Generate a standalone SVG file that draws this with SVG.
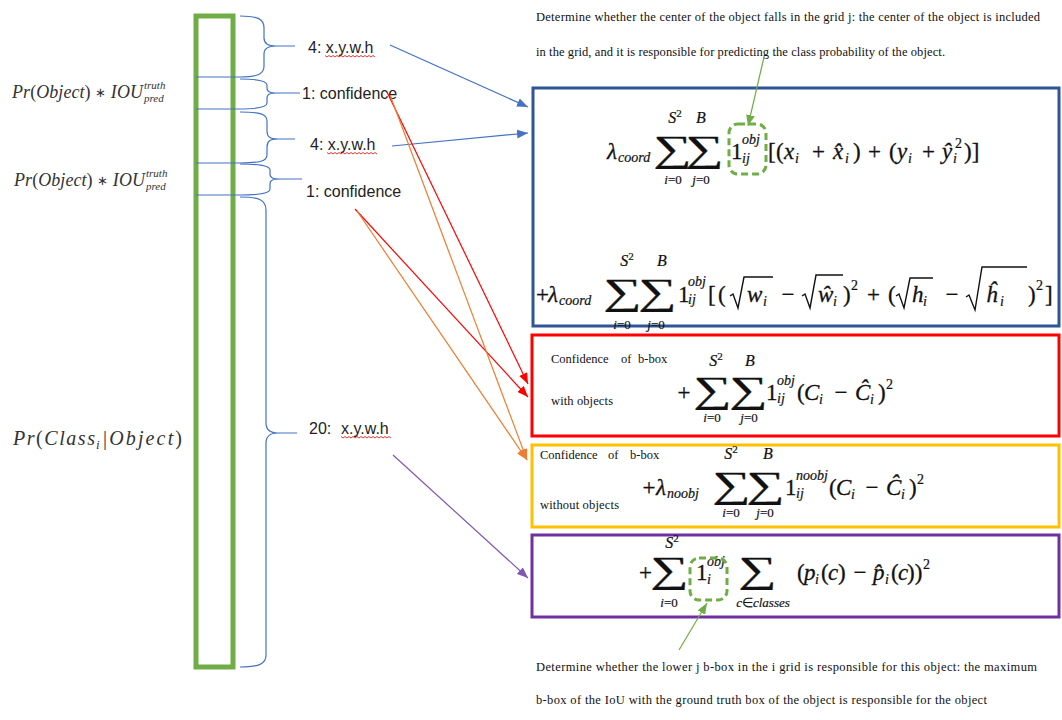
<svg xmlns="http://www.w3.org/2000/svg" width="1062" height="720" viewBox="0 0 1062 720">
<defs>
<style>
.lbl{font-family:"Liberation Sans",Arial,sans-serif;font-size:16px;fill:#222}
.note{font-family:"Liberation Serif","Times New Roman",serif;font-size:12.5px;fill:#111}
.m{font-family:"Liberation Serif","Times New Roman",serif;font-style:italic;fill:#111;font-size:23px;stroke:#111;stroke-width:0.3}
.u{font-style:normal}
.sub{font-size:14px;stroke-width:0.2}
.lim{font-size:13px;text-anchor:middle;stroke-width:0.2}
.lim16{font-size:16px;text-anchor:middle;stroke-width:0.2}
.sum{font-family:"Liberation Serif","Times New Roman",serif;font-style:normal;font-size:37px;text-anchor:middle;fill:#111;stroke:#111;stroke-width:0.3}
.side{font-family:"Liberation Serif","Times New Roman",serif;font-style:italic;fill:#333}
.ast{font-style:normal;font-size:13px}
.brace{fill:none;stroke:#4472C4;stroke-width:1.2}
.wavy{fill:none;stroke:#e02020;stroke-width:0.9}
.rad{fill:none;stroke:#111;stroke-width:1.4;stroke-linejoin:miter}
.dash{fill:none;stroke:#70AD47;stroke-width:3;stroke-dasharray:7 4}
</style>
<marker id="ah-blue" viewBox="0 0 10 8" refX="10" refY="4" markerWidth="11" markerHeight="9" markerUnits="userSpaceOnUse" orient="auto"><path d="M0,0 L10,4 L0,8 z" fill="#4472C4"/></marker>
<marker id="ah-red" viewBox="0 0 10 8" refX="10" refY="4" markerWidth="11" markerHeight="9" markerUnits="userSpaceOnUse" orient="auto"><path d="M0,0 L10,4 L0,8 z" fill="#FF0000"/></marker>
<marker id="ah-orange" viewBox="0 0 10 8" refX="10" refY="4" markerWidth="11" markerHeight="9" markerUnits="userSpaceOnUse" orient="auto"><path d="M0,0 L10,4 L0,8 z" fill="#ED7D31"/></marker>
<marker id="ah-purple" viewBox="0 0 10 8" refX="10" refY="4" markerWidth="11" markerHeight="9" markerUnits="userSpaceOnUse" orient="auto"><path d="M0,0 L10,4 L0,8 z" fill="#7F55B5"/></marker>
<marker id="ah-green" viewBox="0 0 10 8" refX="10" refY="4" markerWidth="11" markerHeight="9" markerUnits="userSpaceOnUse" orient="auto"><path d="M0,0 L10,4 L0,8 z" fill="#70AD47"/></marker>
</defs>
<rect width="1062" height="720" fill="#fff"/>

<!-- output vector column -->
<g id="vector">
  <rect x="196" y="16" width="37" height="651" fill="none" stroke="#70AD47" stroke-width="5"/>
  <g stroke="#4472C4" stroke-width="1.2">
    <line x1="196" y1="77" x2="240" y2="77"/>
    <line x1="196" y1="109" x2="240" y2="109"/>
    <line x1="196" y1="163" x2="240" y2="163"/>
    <line x1="196" y1="195" x2="240" y2="195"/>
  </g>
</g>

<!-- braces grouping the vector slots -->
<g id="braces">
  <path class="brace" d="M240,16 C258,16 264,19 264,28 L264,38 C264,44 268,46 276,46 L295,46 M276,46 C268,46 264,48 264,54 L264,66 C264,74 258,77 240,77"/>
  <path class="brace" d="M240,79 C260,79 267,81 267,85 L267,88 C267,92 270,93 278,93 L300,93 M278,93 C270,93 267,94 267,98 L267,103 C267,107 260,109 240,109"/>
  <path class="brace" d="M240,112 C260,112 267,114 267,121 L267,131 C267,137 270,139 278,139 L295,139 M278,139 C270,139 267,141 267,147 L267,155 C267,161 260,163 240,163"/>
  <path class="brace" d="M240,164 C262,164 270,166 270,170 L270,174 C270,178 273,179 281,179 L302,179 M281,179 C273,179 270,180 270,184 L270,189 C270,193 262,195 240,195"/>
  <path class="brace" d="M240,197 C259,197 266,200 266,210 L266,423 C266,430 270,433 278,433 L297,433 M278,433 C270,433 266,436 266,443 L266,655 C266,664 259,667 240,667"/>
</g>

<!-- slot labels -->
<g id="slot-xywh-1">
  <text class="lbl" x="308" y="53">4: x.y.w.h</text>
  <path class="wavy" d="M325,55.5 l2,1.5 l2,-1.5 l2,1.5 l2,-1.5 l2,1.5 l2,-1.5 l2,1.5 l2,-1.5 l2,1.5 l2,-1.5 l2,1.5 l2,-1.5 l2,1.5 l2,-1.5 l2,1.5 l2,-1.5 l2,1.5 l2,-1.5 l2,1.5 l2,-1.5 l2,1.5 l2,-1.5 l2,1.5 l2,-1.5 l2,1.5"/>
</g>
<g id="slot-conf-1"><text class="lbl" x="302" y="99">1: confidence</text></g>
<g id="slot-xywh-2">
  <text class="lbl" x="310" y="150">4: x.y.w.h</text>
  <path class="wavy" d="M327,152.5 l2,1.5 l2,-1.5 l2,1.5 l2,-1.5 l2,1.5 l2,-1.5 l2,1.5 l2,-1.5 l2,1.5 l2,-1.5 l2,1.5 l2,-1.5 l2,1.5 l2,-1.5 l2,1.5 l2,-1.5 l2,1.5 l2,-1.5 l2,1.5 l2,-1.5 l2,1.5 l2,-1.5 l2,1.5 l2,-1.5 l2,1.5"/>
</g>
<g id="slot-conf-2"><text class="lbl" x="306" y="197">1: confidence</text></g>
<g id="slot-class">
  <text class="lbl" x="309" y="434">20:<tspan x="341">x.y.w.h</tspan></text>
  <path class="wavy" d="M341,436.5 l2,1.5 l2,-1.5 l2,1.5 l2,-1.5 l2,1.5 l2,-1.5 l2,1.5 l2,-1.5 l2,1.5 l2,-1.5 l2,1.5 l2,-1.5 l2,1.5 l2,-1.5 l2,1.5 l2,-1.5 l2,1.5 l2,-1.5 l2,1.5 l2,-1.5 l2,1.5 l2,-1.5 l2,1.5 l2,-1.5 l2,1.5"/>
</g>

<!-- left-hand meaning of each slot -->
<g id="meaning-conf-1">
  <text class="side" x="12" y="98" font-size="18" textLength="131">Pr<tspan class="u">(</tspan>Object<tspan class="u">)</tspan> <tspan class="ast" dy="-1">∗</tspan> <tspan dy="1">IOU</tspan></text>
  <text class="side" x="144" y="89" font-size="11">truth</text>
  <text class="side" x="144" y="102" font-size="11">pred</text>
</g>
<g id="meaning-conf-2">
  <text class="side" x="14" y="186" font-size="18" textLength="131">Pr<tspan class="u">(</tspan>Object<tspan class="u">)</tspan> <tspan class="ast" dy="-1">∗</tspan> <tspan dy="1">IOU</tspan></text>
  <text class="side" x="146" y="177" font-size="11">truth</text>
  <text class="side" x="146" y="190" font-size="11">pred</text>
</g>
<g id="meaning-class">
  <text class="side" x="13" y="445" font-size="20" textLength="82">Pr<tspan class="u">(</tspan>Class</text>
  <text class="side" x="96" y="449" font-size="13">i</text>
  <text class="side" x="103" y="445" font-size="20" textLength="79"><tspan class="u">|</tspan>Object<tspan class="u">)</tspan></text>
</g>

<!-- annotations -->
<g id="note-top">
  <text class="note" x="536" y="21" textLength="504">Determine whether the center of the object falls in the grid j: the center of the object is included</text>
  <text class="note" x="536" y="56" textLength="409">in the grid, and it is responsible for predicting the class probability of the object.</text>
</g>
<g id="note-bottom">
  <text class="note" x="536" y="671" textLength="501">Determine whether the lower j b-box in the i grid is responsible for this object: the maximum</text>
  <text class="note" x="536" y="704" textLength="451">b-box of the IoU with the ground truth box of the object is responsible for the object</text>
</g>

<!-- coordinate loss -->
<g id="loss-coord">
  <rect x="533" y="88" width="526" height="238" fill="none" stroke="#2F5597" stroke-width="3"/>
  <!-- centre terms -->
  <text class="m" x="607" y="159">λ</text>
  <text class="m sub" x="618" y="162">coord</text>
  <text class="sum" transform="translate(672,161) scale(1.45,1)">∑</text>
  <text class="m lim16" x="675" y="123">S<tspan class="u" font-size="11" dy="-6">2</tspan></text>
  <text class="m lim" x="673" y="184">i<tspan class="u">=0</tspan></text>
  <text class="sum" transform="translate(704,161) scale(1.45,1)">∑</text>
  <text class="m lim16" x="701" y="123">B</text>
  <text class="m lim" x="701" y="184">j<tspan class="u">=0</tspan></text>
  <text class="m u" x="731" y="159">1</text>
  <text class="m sub" x="742" y="144">obj</text>
  <text class="m sub" x="742" y="163">ij</text>
  <rect class="dash" x="729" y="124" width="37" height="50" rx="9"/>
  <text class="m" y="159"><tspan class="u" x="768">[</tspan><tspan class="u" x="776">(</tspan><tspan x="784">x</tspan><tspan class="sub" x="795" y="163">i</tspan><tspan class="u" x="812" y="159">+</tspan><tspan x="833">x̂</tspan><tspan class="sub" x="845" y="163">i</tspan><tspan class="u" x="853" y="159">)</tspan><tspan class="u" x="868">+</tspan><tspan class="u" x="889">(</tspan><tspan x="897">y</tspan><tspan class="sub" x="908" y="163">i</tspan><tspan class="u" x="922" y="159">+</tspan><tspan x="942">ŷ</tspan><tspan class="sub" x="953" y="163">i</tspan><tspan class="u sub" x="955" y="148">2</tspan><tspan class="u" x="964" y="159">)]</tspan></text>

  <!-- size terms -->
  <text class="m" y="302"><tspan class="u" x="536">+</tspan><tspan x="548">λ</tspan></text>
  <text class="m sub" x="559" y="305">coord</text>
  <text class="sum" transform="translate(622,304) scale(1.45,1)">∑</text>
  <text class="m lim16" x="627" y="266">S<tspan class="u" font-size="11" dy="-6">2</tspan></text>
  <text class="m lim" x="622" y="329">i<tspan class="u">=0</tspan></text>
  <text class="sum" transform="translate(657,304) scale(1.45,1)">∑</text>
  <text class="m lim16" x="662" y="266">B</text>
  <text class="m lim" x="656" y="329">j<tspan class="u">=0</tspan></text>
  <text class="m u" x="678" y="302">1</text>
  <text class="m sub" x="688" y="286">obj</text>
  <text class="m sub" x="688" y="304">ij</text>
  <text class="m" y="302"><tspan class="u" x="708">[</tspan><tspan class="u" x="718">(</tspan><tspan x="747">w</tspan><tspan class="sub" x="763" y="306">i</tspan><tspan class="u" x="781.5" y="302">−</tspan><tspan x="818">ŵ</tspan><tspan class="sub" x="833" y="306">i</tspan><tspan class="u" x="843" y="302">)</tspan><tspan class="u sub" x="851" y="290">2</tspan><tspan class="u" x="867" y="302">+</tspan><tspan class="u" x="888">(</tspan><tspan x="912">h</tspan><tspan class="sub" x="923" y="306">i</tspan><tspan class="u" x="945.5" y="302">−</tspan><tspan x="986">ĥ</tspan><tspan class="sub" x="1000" y="306">i</tspan><tspan class="u" x="1028" y="302">)</tspan><tspan class="u sub" x="1036" y="290">2</tspan><tspan class="u" x="1045" y="302">]</tspan></text>
  <g class="rad">
    <path d="M730,296 L733,294 L738,308 L744,277 L773,277"/>
    <path d="M802,296 L805,294 L810,308 L816,275 L843,275"/>
    <path d="M896,296 L899,294 L904,308 L910,278 L933,278"/>
    <path d="M966,297 L969,295 L975,310 L982,267 L1027,267"/>
  </g>
</g>

<!-- confidence loss, boxes with objects -->
<g id="loss-obj">
  <rect x="532" y="335" width="527" height="101" fill="none" stroke="#FF0000" stroke-width="3"/>
  <text class="note" y="363"><tspan x="551">Confidence</tspan><tspan x="621">of</tspan><tspan x="638">b-box</tspan></text>
  <text class="note" x="551" y="405" textLength="62">with objects</text>
  <text class="m u" x="677.5" y="400">+</text>
  <text class="sum" transform="translate(712,402) scale(1.45,1)">∑</text>
  <text class="m lim16" x="716" y="366">S<tspan class="u" font-size="11" dy="-6">2</tspan></text>
  <text class="m lim" x="712" y="422">i<tspan class="u">=0</tspan></text>
  <text class="sum" transform="translate(748,402) scale(1.45,1)">∑</text>
  <text class="m lim16" x="750" y="366">B</text>
  <text class="m lim" x="749" y="422">j<tspan class="u">=0</tspan></text>
  <text class="m u" x="766" y="400">1</text>
  <text class="m sub" x="777" y="385">obj</text>
  <text class="m sub" x="777" y="403">ij</text>
  <text class="m" y="400"><tspan class="u" x="797">(</tspan><tspan x="804">C</tspan><tspan class="sub" x="819" y="404">i</tspan><tspan class="u" x="834.5" y="400">−</tspan><tspan x="855">Ĉ</tspan><tspan class="sub" x="870" y="404">i</tspan><tspan class="u" x="878" y="400">)</tspan><tspan class="u sub" x="886" y="389">2</tspan></text>
</g>

<!-- confidence loss, boxes without objects -->
<g id="loss-noobj">
  <rect x="532" y="445" width="527" height="82" fill="none" stroke="#FFC000" stroke-width="3"/>
  <text class="note" y="459"><tspan x="540">Confidence</tspan><tspan x="608">of</tspan><tspan x="630">b-box</tspan></text>
  <text class="note" x="540" y="509" textLength="79">without objects</text>
  <text class="m" y="495"><tspan class="u" x="642.5">+</tspan><tspan x="656">λ</tspan></text>
  <text class="m sub" x="667" y="498">noobj</text>
  <text class="sum" transform="translate(731,497) scale(1.45,1)">∑</text>
  <text class="m lim16" x="731" y="459">S<tspan class="u" font-size="11" dy="-6">2</tspan></text>
  <text class="m lim" x="731" y="517">i<tspan class="u">=0</tspan></text>
  <text class="sum" transform="translate(765,497) scale(1.45,1)">∑</text>
  <text class="m lim16" x="768" y="459">B</text>
  <text class="m lim" x="765" y="517">j<tspan class="u">=0</tspan></text>
  <text class="m u" x="785" y="495">1</text>
  <text class="m sub" x="796" y="480">noobj</text>
  <text class="m sub" x="796" y="498">ij</text>
  <text class="m" y="495"><tspan class="u" x="829">(</tspan><tspan x="836">C</tspan><tspan class="sub" x="851" y="499">i</tspan><tspan class="u" x="865.5" y="495">−</tspan><tspan x="886">Ĉ</tspan><tspan class="sub" x="901" y="499">i</tspan><tspan class="u" x="909" y="495">)</tspan><tspan class="u sub" x="917" y="484">2</tspan></text>
</g>

<!-- classification loss -->
<g id="loss-class">
  <rect x="532" y="535" width="527" height="82" fill="none" stroke="#7030A0" stroke-width="3"/>
  <text class="m u" x="639" y="580">+</text>
  <text class="sum" transform="translate(669,582) scale(1.45,1)">∑</text>
  <text class="m lim16" x="672" y="548">S<tspan class="u" font-size="11" dy="-6">2</tspan></text>
  <text class="m lim" x="669" y="607">i<tspan class="u">=0</tspan></text>
  <text class="m u" x="696" y="580">1</text>
  <text class="m sub" x="707" y="566">obj</text>
  <text class="m sub" x="707" y="584">i</text>
  <rect class="dash" x="690" y="558" width="37" height="42" rx="9"/>
  <text class="sum" transform="translate(757,582) scale(1.45,1)">∑</text>
  <text class="m lim" x="763" y="607">c<tspan class="u">∈</tspan>classes</text>
  <text class="m" y="580"><tspan class="u" x="797">(</tspan><tspan x="804">p</tspan><tspan class="sub" x="815" y="584">i</tspan><tspan class="u" x="821" y="580">(</tspan><tspan x="828">c</tspan><tspan class="u" x="838">)</tspan><tspan class="u" x="853.5">−</tspan><tspan x="873">p̂</tspan><tspan class="sub" x="885" y="584">i</tspan><tspan class="u" x="891" y="580">(</tspan><tspan x="898">c</tspan><tspan class="u" x="907">))</tspan><tspan class="u sub" x="923" y="569">2</tspan></text>
</g>

<!-- connectors -->
<g id="connectors" fill="none" stroke-width="1.2">
  <line x1="390" y1="45" x2="528" y2="107" stroke="#4472C4" marker-end="url(#ah-blue)"/>
  <line x1="392" y1="146" x2="528" y2="133" stroke="#4472C4" marker-end="url(#ah-blue)"/>
  <line x1="387" y1="92" x2="528" y2="384" stroke="#FF0000" marker-end="url(#ah-red)"/>
  <line x1="355" y1="209" x2="528" y2="397" stroke="#FF0000" marker-end="url(#ah-red)"/>
  <line x1="390" y1="95" x2="527" y2="460" stroke="#ED7D31" marker-end="url(#ah-orange)"/>
  <line x1="357" y1="211" x2="527" y2="460" stroke="#ED7D31" marker-end="url(#ah-orange)"/>
  <line x1="393" y1="455" x2="528" y2="578" stroke="#7F55B5" marker-end="url(#ah-purple)"/>
  <line x1="764" y1="57" x2="748" y2="126" stroke="#70AD47" marker-end="url(#ah-green)"/>
  <line x1="679" y1="650" x2="707" y2="603" stroke="#70AD47" marker-end="url(#ah-green)"/>
</g>
</svg>
